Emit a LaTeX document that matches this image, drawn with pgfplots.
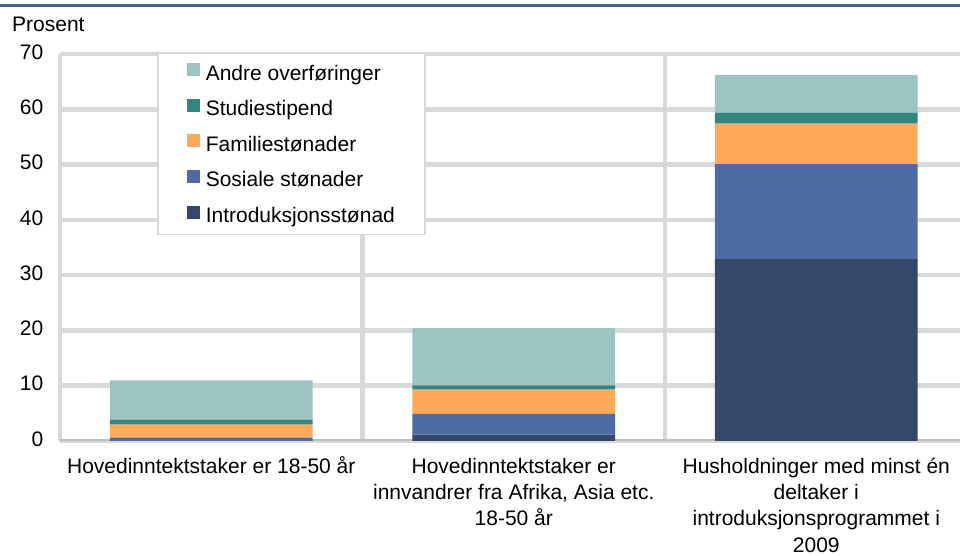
\documentclass[border=0pt]{standalone}
\usepackage{pgfplots}
\pgfplotsset{compat=1.18}
\usepackage{fontspec}
\setmainfont{Liberation Sans}

\definecolor{intro}{HTML}{35486B}
\definecolor{sosial}{HTML}{4E6CA3}
\definecolor{familie}{HTML}{FFAA5A}
\definecolor{studie}{HTML}{348480}
\definecolor{andre}{HTML}{9DC3C2}
\definecolor{gridgray}{HTML}{D9D9D9}
\definecolor{axisgray}{HTML}{BFBFBF}
\definecolor{topblue}{HTML}{46608F}

\begin{document}
\begin{tikzpicture}[font=\fontsize{21bp}{26.3bp}\selectfont]
\begin{axis}[
  name=ax, at={(0,0)}, anchor=south west,
  scale only axis, width=900bp, height=387bp,
  ybar stacked, bar width=0.67,
  xmin=-0.5, xmax=2.475, ymin=0, ymax=70,
  xtick={0,1,2},
  xticklabels={
    {Hovedinntektstaker er 18-50 år},
    {Hovedinntektstaker er\\innvandrer fra Afrika, Asia etc.\\18-50 år},
    {Husholdninger med minst én\\deltaker i\\introduksjonsprogrammet i\\2009}},
  typeset ticklabels with strut,
  tick label style={font=\fontsize{21bp}{26.3bp}\selectfont},
  xticklabel style={align=center, anchor=north, inner sep=0pt, yshift=-13.6bp},
  ytick={0,10,...,70},
  yticklabel style={anchor=east, inner sep=0pt, xshift=-16.5bp},
  /pgf/number format/assume math mode=true,
  minor xtick={-0.5,0.5,1.5}, xminorgrids,
  minor grid style={draw=gridgray, line width=4.5bp},
  ymajorgrids, major grid style={draw=gridgray, line width=4.5bp},
  axis line style={draw=none},
  major tick length=0pt, minor tick length=0pt, tick style={draw=none},
  legend style={at={(0.1078,1.005)}, anchor=north west,
    draw=gridgray, line width=1.5bp, fill=white,
    font=\fontsize{21bp}{24bp}\selectfont,
    inner xsep=29bp, inner ysep=9.5bp, row sep=15.3bp, column sep=5bp,
    nodes={inner sep=1bp}},
  legend cell align=left,
  reverse legend,
  legend image code/.code={\fill[#1] (0bp,-3.8bp) rectangle (13bp,9.2bp);},
]
\addplot[fill=intro, draw=none] coordinates {(0,0) (1,1.15) (2,32.9)};
\addplot[fill=sosial, draw=none] coordinates {(0,0.6) (1,3.75) (2,17.2)};
\addplot[fill=familie, draw=none] coordinates {(0,2.35) (1,4.4) (2,7.3)};
\addplot[fill=studie, draw=none] coordinates {(0,0.9) (1,0.75) (2,2.0)};
\addplot[fill=andre, draw=none] coordinates {(0,7.1) (1,10.35) (2,6.8)};
\addlegendentry{\strut Introduksjonsstønad}
\addlegendentry{\strut Sosiale stønader}
\addlegendentry{\strut Familiestønader}
\addlegendentry{\strut Studiestipend}
\addlegendentry{\strut Andre overføringer}
\draw[axisgray, line width=4.5bp] (rel axis cs:0,0) -- (rel axis cs:1,0);
\end{axis}
\node[anchor=base west, inner sep=0pt] at ([shift={(-48bp,22.3bp)}]ax.north west) {Prosent};
\draw[topblue, line width=3bp] ([shift={(-60bp,48.5bp)}]ax.north west) -- ([shift={(0bp,48.5bp)}]ax.north east);
\pgfresetboundingbox
\path ([shift={(-60bp,-115bp)}]ax.south west) rectangle ([shift={(0bp,54bp)}]ax.north east);
\end{tikzpicture}
\end{document}
